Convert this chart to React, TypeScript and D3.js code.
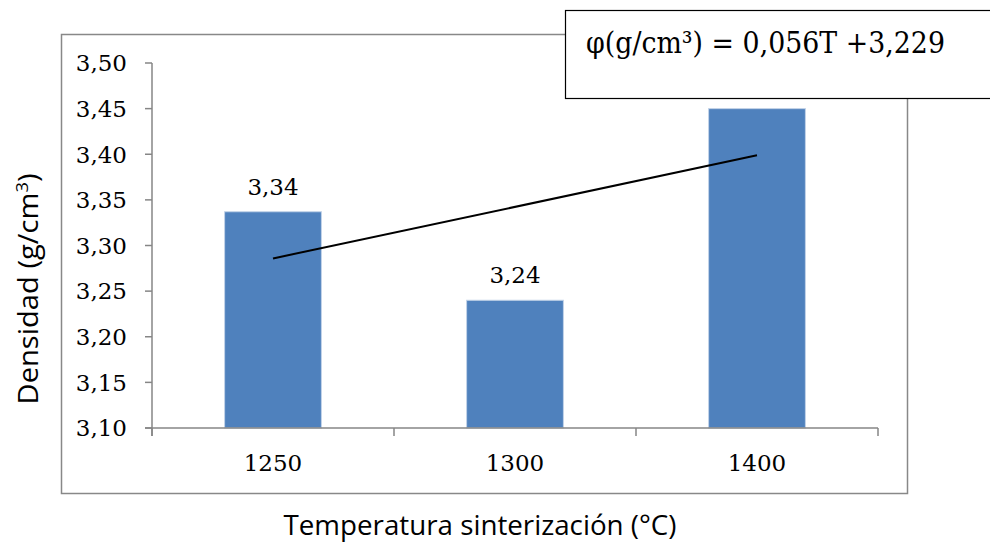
import React from "react";
import * as d3 from "d3";

// Sintering temperature (°C) vs. measured density (g/cm³)
const categories = ["1250", "1300", "1400"];
const densities = [3.337, 3.24, 3.45];
const yTicks = [3.1, 3.15, 3.2, 3.25, 3.3, 3.35, 3.4, 3.45, 3.5];
const equationText = "φ(g/cm³) = 0,056T +3,229";

const W = 990;
const H = 542;
const plot = { left: 152, right: 878, top: 63, bottom: 428 };

const fmt = (v: number) => d3.format(".2f")(v).replace(".", ",");

export default function App() {
  const x = d3
    .scaleBand<string>()
    .domain(categories)
    .range([plot.left, plot.right])
    .paddingInner(0.6)
    .paddingOuter(0.3);
  const y = d3.scaleLinear().domain([3.1, 3.5]).range([plot.bottom, plot.top]);

  // least-squares linear trend over category index 1..n
  const idx = densities.map((_, i) => i + 1);
  const mx = d3.mean(idx)!;
  const my = d3.mean(densities)!;
  const slope =
    d3.sum(idx.map((xi, i) => (xi - mx) * (densities[i] - my))) /
    d3.sum(idx.map((xi) => (xi - mx) ** 2));
  const intercept = my - slope * mx;
  const trendPts: [number, number][] = categories.map((c, i) => [
    x(c)! + x.bandwidth() / 2,
    y(intercept + slope * (i + 1)),
  ]);
  const trend = d3.line()([trendPts[0], trendPts[trendPts.length - 1]]);

  const step = x.step();
  const boundaries = d3.range(categories.length + 1).map((i) => plot.left + i * step);

  const serif = "'DejaVu Serif', serif";
  const sans = "'Open Sans', sans-serif";

  return (
    <svg
      width={W}
      height={H}
      style={{ position: "absolute", left: 0, top: 0, background: "#fff" }}
    >
      {/* chart frame */}
      <rect x={61.5} y={34.5} width={846} height={459} fill="#fff" stroke="#888" strokeWidth={1.5} />

      {/* bars */}
      {categories.map((c, i) => (
        <rect
          key={c}
          x={x(c)!}
          y={y(densities[i])}
          width={x.bandwidth()}
          height={plot.bottom - y(densities[i])}
          fill="#4F81BD"
          stroke="#c3d3e8"
          strokeWidth={1}
        />
      ))}

      {/* y axis */}
      <line x1={plot.left} x2={plot.left} y1={plot.top} y2={plot.bottom + 8} stroke="#868686" strokeWidth={1.5} />
      {yTicks.map((t) => (
        <g key={t}>
          <line x1={plot.left - 7} x2={plot.left} y1={y(t)} y2={y(t)} stroke="#868686" strokeWidth={1.5} />
          <text
            x={127}
            y={y(t)}
            dy="0.36em"
            textAnchor="end"
            fontFamily={serif}
            fontSize={23}
            fill="#000"
          >
            {fmt(t)}
          </text>
        </g>
      ))}

      {/* x axis */}
      <line x1={plot.left - 7} x2={plot.right} y1={plot.bottom} y2={plot.bottom} stroke="#868686" strokeWidth={1.5} />
      {boundaries.map((b, i) => (
        <line key={i} x1={b} x2={b} y1={plot.bottom} y2={plot.bottom + 8} stroke="#868686" strokeWidth={1.5} />
      ))}
      {categories.map((c) => (
        <text
          key={c}
          x={x(c)! + x.bandwidth() / 2}
          y={471}
          textAnchor="middle"
          fontFamily={serif}
          fontSize={23}
          fill="#000"
        >
          {c}
        </text>
      ))}

      {/* trend line */}
      <path d={trend!} stroke="#000" strokeWidth={2} fill="none" />

      {/* value labels */}
      {categories.map((c, i) => (
        <text
          key={c}
          x={x(c)! + x.bandwidth() / 2}
          y={y(densities[i]) - 17}
          textAnchor="middle"
          fontFamily={serif}
          fontSize={23}
          fill="#000"
        >
          {fmt(densities[i])}
        </text>
      ))}

      {/* equation box */}
      <rect x={565.5} y={10.5} width={440} height={88} fill="#fff" stroke="#000" strokeWidth={1.2} />
      <text
        x={586}
        y={53}
        fontFamily={serif}
        fontSize={30}
        textLength={359}
        lengthAdjust="spacingAndGlyphs"
        fill="#000"
      >
        {equationText}
      </text>

      {/* axis titles */}
      <text
        x={480}
        y={535}
        textAnchor="middle"
        fontFamily={sans}
        fontSize={27}
        textLength={393}
        lengthAdjust="spacingAndGlyphs"
        fill="#000"
      >
        Temperatura sinterización (°C)
      </text>
      <text
        transform="translate(38,289) rotate(-90)"
        textAnchor="middle"
        fontFamily={sans}
        fontSize={27}
        textLength={231}
        lengthAdjust="spacingAndGlyphs"
        fill="#000"
      >
        Densidad (g/cm
        <tspan dy={-10} fontSize={17}>3</tspan>
        <tspan dy={10}>)</tspan>
      </text>
    </svg>
  );
}
